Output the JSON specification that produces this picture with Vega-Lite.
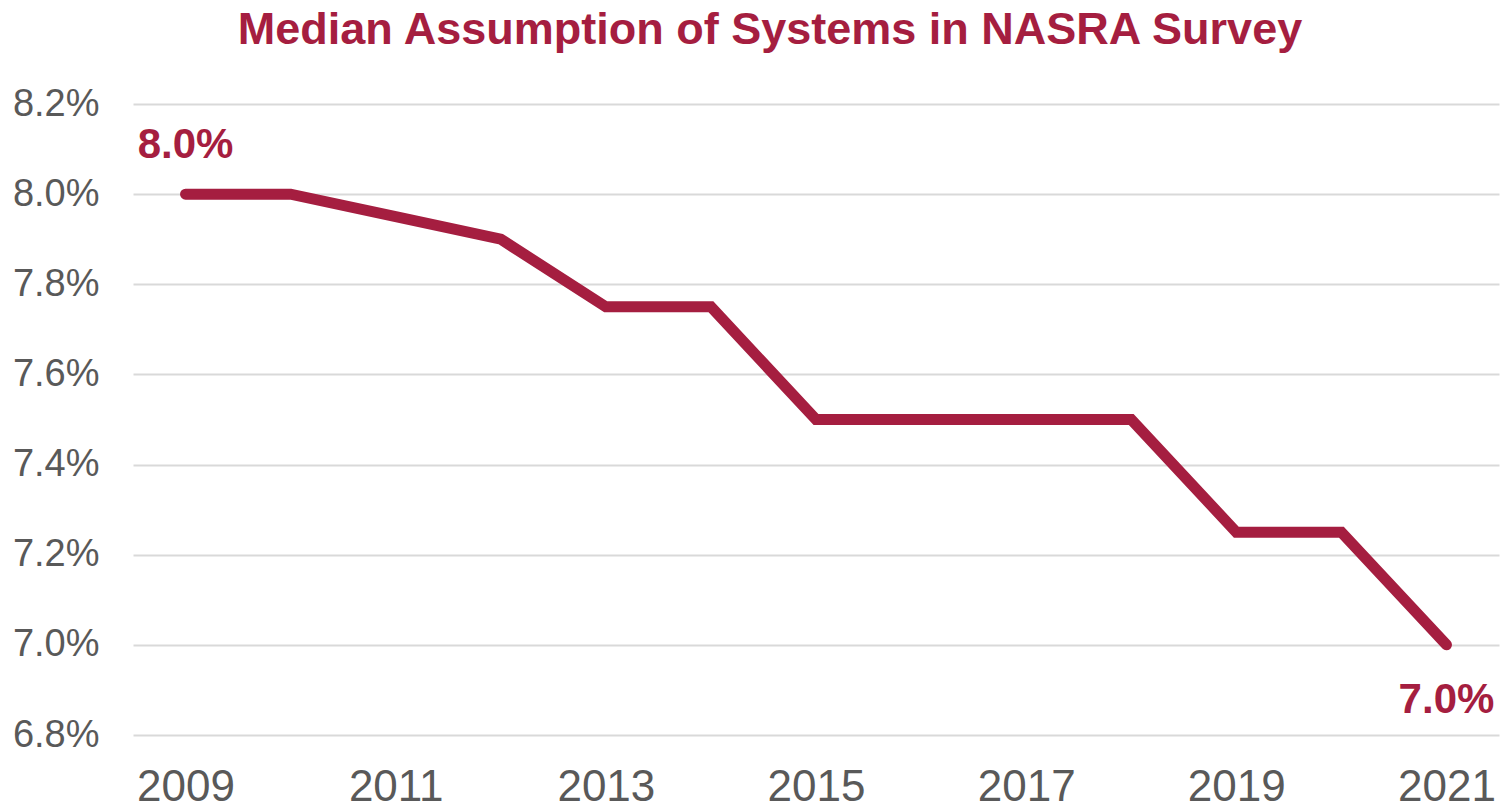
{
  "$schema": "https://vega.github.io/schema/vega-lite/v6.json",
  "autosize": {"type": "none"},
  "width": 1366,
  "height": 631,
  "padding": {"left": 133, "top": 104, "right": 2, "bottom": 74},
  "background": "white",
  "config": {"view": {"stroke": null}, "font": "Liberation Sans"},
  "title": {
    "text": "Median Assumption of Systems  in NASRA Survey",
    "font": "Liberation Sans",
    "fontSize": 45,
    "fontWeight": "bold",
    "color": "#A51E40",
    "anchor": "middle",
    "dx": -46,
    "offset": 32
  },
  "data": {
    "values": [
      {"year": "2009", "rate": 8.0},
      {"year": "2010", "rate": 8.0},
      {"year": "2011", "rate": 7.95},
      {"year": "2012", "rate": 7.9},
      {"year": "2013", "rate": 7.75},
      {"year": "2014", "rate": 7.75},
      {"year": "2015", "rate": 7.5},
      {"year": "2016", "rate": 7.5},
      {"year": "2017", "rate": 7.5},
      {"year": "2018", "rate": 7.5},
      {"year": "2019", "rate": 7.25},
      {"year": "2020", "rate": 7.25},
      {"year": "2021", "rate": 7.0}
    ]
  },
  "encoding": {
    "x": {
      "field": "year",
      "type": "ordinal",
      "scale": {"type": "point", "padding": 0.5},
      "axis": {
        "title": null,
        "values": ["2009", "2011", "2013", "2015", "2017", "2019", "2021"],
        "labelAngle": 0,
        "labelFont": "Liberation Sans",
        "labelFontSize": 44,
        "labelColor": "#595959",
        "labelPadding": 30,
        "ticks": false,
        "domain": false,
        "grid": false
      }
    },
    "y": {
      "field": "rate",
      "type": "quantitative",
      "scale": {"domain": [6.8, 8.2], "nice": false, "zero": false},
      "axis": {
        "title": null,
        "values": [6.8, 7.0, 7.2, 7.4, 7.6, 7.8, 8.0, 8.2],
        "labelExpr": "format(datum.value, '.1f') + '%'",
        "labelFont": "Liberation Sans",
        "labelFontSize": 38,
        "labelColor": "#595959",
        "labelPadding": 34,
        "ticks": false,
        "domain": false,
        "grid": true,
        "gridColor": "#D9D9D9",
        "gridWidth": 2
      }
    }
  },
  "layer": [
    {
      "mark": {"type": "line", "color": "#A51E40", "strokeWidth": 11, "strokeCap": "round", "strokeJoin": "miter"}
    },
    {
      "transform": [{"filter": "datum.year == '2009'"}],
      "mark": {"type": "text", "font": "Liberation Sans", "fontSize": 42, "fontWeight": "bold", "color": "#A51E40", "baseline": "alphabetic", "align": "center", "dy": -36},
      "encoding": {"text": {"value": "8.0%"}}
    },
    {
      "transform": [{"filter": "datum.year == '2021'"}],
      "mark": {"type": "text", "font": "Liberation Sans", "fontSize": 42, "fontWeight": "bold", "color": "#A51E40", "baseline": "alphabetic", "align": "center", "dy": 68},
      "encoding": {"text": {"value": "7.0%"}}
    }
  ]
}
